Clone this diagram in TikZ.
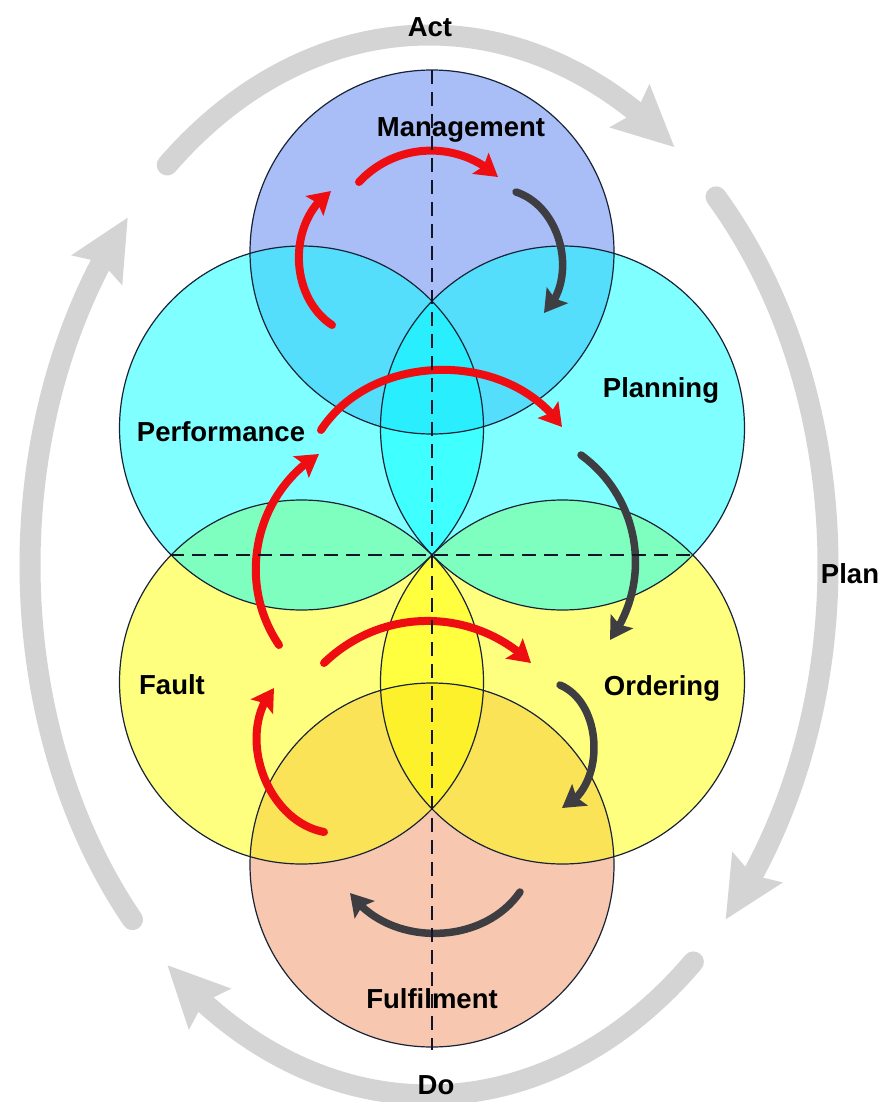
\documentclass[tikz,border=0pt]{standalone}
\usepackage{fontspec}
\setmainfont{Liberation Sans}
\usetikzlibrary{arrows.meta,bending,calc}
\definecolor{mgmtc}{RGB}{85,125,241}
\definecolor{cyanc}{RGB}{0,255,255}
\definecolor{yelc}{RGB}{255,255,0}
\definecolor{fulc}{RGB}{241,145,97}
\definecolor{rimc}{RGB}{25,35,55}
\definecolor{redc}{RGB}{238,14,18}
\definecolor{darkc}{RGB}{62,62,66}
\definecolor{bigc}{RGB}{212,212,212}
\definecolor{dashc}{RGB}{20,20,40}
\begin{document}
\begin{tikzpicture}[x=1pt,y=1pt,
  zone/.style={circle, minimum size=364pt, inner sep=0pt, fill opacity=0.5},
  rim/.style={draw=rimc, line width=1.2pt},
  lbl/.style={font=\bfseries\fontsize{27.5}{30}\selectfont, anchor=base, text=black, inner sep=0pt},
  redarr/.style={draw=redc, line width=8pt, line cap=round, -{Stealth[length=22pt,width=26pt,inset=4pt]}},
  darkarr/.style={draw=darkc, line width=7.5pt, line cap=round, -{Stealth[length=22pt,width=26pt,inset=4pt]}},
  bigarr/.style={draw=bigc, line width=21pt, line cap=round, -{Stealth[length=60pt,width=56pt,inset=8pt]}},
  axis/.style={draw=dashc, line width=1.8pt, dash pattern=on 14pt off 8pt}
]
\useasboundingbox (0,0) rectangle (883,-1102);
\fill[white] (0,0) rectangle (883,-1102);

% circles (fills)
\node[zone, fill=mgmtc] (mgmt) at (432,-252) {};
\node[zone, fill=fulc] (fulf) at (432,-865) {};
\node[zone, fill=yelc] (fault) at (301.5,-682) {};
\node[zone, fill=yelc] (order) at (562.5,-682) {};
\node[zone, fill=cyanc] (perf) at (301.5,-428) {};
\node[zone, fill=cyanc] (plan) at (562.5,-428) {};

% circle outlines
\foreach \c in {mgmt,fulf,fault,order,perf,plan}
  \draw[rim] (\c.center) circle[radius=182];

% big grey cycle arrows on an ellipse
\coordinate (E) at (429,-565);
\coordinate (actS) at ($(E)+(131:399 and 530)$);
\coordinate (planS) at ($(E)+(44:399 and 530)$);
\coordinate (doS) at ($(E)+(-48.5:399 and 530)$);
\coordinate (leftS) at ($(E)+(-138:399 and 530)$);
\draw[bigarr] (actS) arc[start angle=131, end angle=52, x radius=399, y radius=530];
\draw[bigarr] (planS) arc[start angle=44, end angle=-42, x radius=399, y radius=530];
\draw[bigarr] (doS) arc[start angle=-48.5, end angle=-131, x radius=399, y radius=530];
\draw[bigarr] (leftS) arc[start angle=-138, end angle=-221, x radius=399, y radius=530];

% inner arrows
\coordinate (r1a) at (359,-182); \coordinate (r1b) at (498,-177);
\coordinate (r2a) at (332,-325); \coordinate (r2b) at (331,-191);
\coordinate (d1a) at (516,-192); \coordinate (d1b) at (544,-313);
\coordinate (r3a) at (321,-430); \coordinate (r3b) at (562,-427);
\coordinate (r4a) at (279,-645); \coordinate (r4b) at (319,-454);
\coordinate (d2a) at (581,-455); \coordinate (d2b) at (610,-640);
\coordinate (r5a) at (324,-663); \coordinate (r5b) at (531,-663);
\coordinate (r6a) at (324,-832); \coordinate (r6b) at (274,-688);
\coordinate (d3a) at (560,-685); \coordinate (d3b) at (562,-808);
\coordinate (d4a) at (520,-892); \coordinate (d4b) at (350,-893);

\draw[redarr] (r1a) to[bend left=45] (r1b);
\draw[redarr] (r2a) to[bend left=56] (r2b);
\draw[darkarr] (d1a) to[bend left=59] (d1b);
\draw[redarr] (r3a) to[bend left=56] (r3b);
\draw[redarr] (r4a) to[bend left=46] (r4b);
\draw[darkarr] (d2a) to[bend left=45] (d2b);
\draw[redarr] (r5a) to[bend left=44] (r5b);
\draw[redarr] (r6a) to[bend left=60] (r6b);
\draw[darkarr] (d3a) to[bend left=66] (d3b);
\draw[darkarr] (d4a) to[bend left=55] (d4b);

% labels
\node[lbl] (tAct) at (430,-37) {Act};
\node[lbl] (tMgmt) at (461,-137) {Management};
\node[lbl] (tPerf) at (221,-441) {Performance};
\node[lbl] (tPlan) at (661,-397) {Planning};
\node[lbl] (tFault) at (172,-694) {Fault};
\node[lbl] (tOrder) at (662,-695) {Ordering};
\node[lbl] (tFulf) at (432,-1008) {Fulfilment};
\node[lbl] (tDo) at (436,-1094) {Do};
\node[lbl] (tPlanC) at (850,-583) {Plan};

% dashed axes
\coordinate (vTop) at (432,-70);
\coordinate (vBot) at (432,-1050);
\coordinate (hL) at (170,-555);
\coordinate (hR) at (694,-555);
\draw[axis] (vTop) -- (vBot);
\draw[axis] (hL) -- (hR);
\end{tikzpicture}
\end{document}
